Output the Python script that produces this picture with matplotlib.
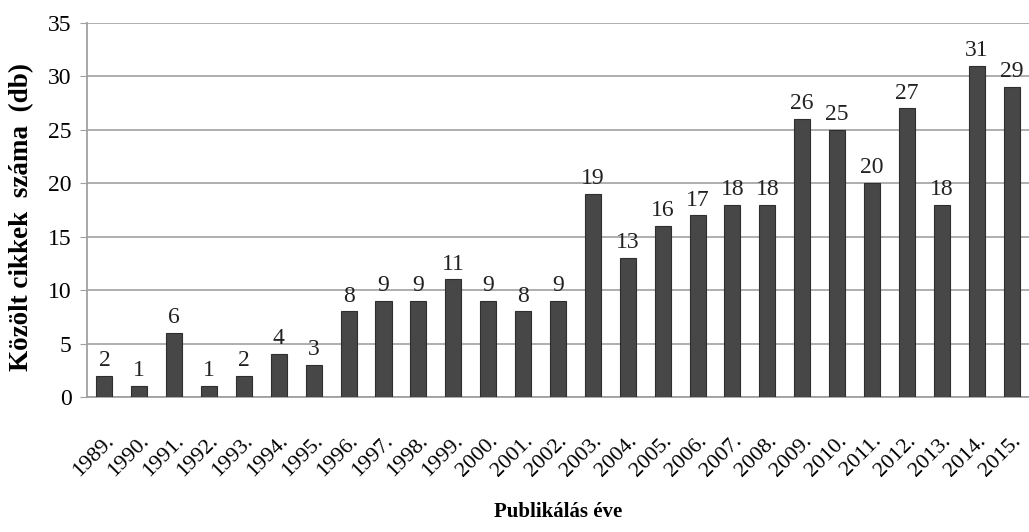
import matplotlib
matplotlib.use("Agg")
import matplotlib.pyplot as plt
import numpy as np

years = ["1989.", "1990.", "1991.", "1992.", "1993.", "1994.", "1995.", "1996.", "1997.",
         "1998.", "1999.", "2000.", "2001.", "2002.", "2003.", "2004.", "2005.", "2006.",
         "2007.", "2008.", "2009.", "2010.", "2011.", "2012.", "2013.", "2014.", "2015."]
counts = [2, 1, 6, 1, 2, 4, 3, 8, 9, 9, 11, 9, 8, 9, 19, 13, 16, 17, 18, 18, 26, 25, 20, 27, 18, 31, 29]
yticks = [0, 5, 10, 15, 20, 25, 30, 35]

plt.rcParams['font.family'] = ['Liberation Serif', 'DejaVu Serif']

fig = plt.figure(figsize=(10.29, 5.32), dpi=100)
ax = fig.add_axes([0.0845, 0.2538, 0.9155, 0.703])

x = np.arange(len(years))
ax.bar(x, counts, width=0.46, color='#474747', edgecolor='#2e2e2e', linewidth=0.8, zorder=3)
for xi, v in zip(x, counts):
    ax.text(xi, v + 0.45, str(v), ha='center', va='bottom', fontsize=17, color='#222222', zorder=4)

ax.set_xlim(-0.5, len(years) - 0.5)
ax.set_ylim(0, 35)
ax.set_yticks(yticks)
ax.set_yticklabels([str(t) for t in yticks], fontsize=17)
ax.set_xticks(x)
ax.set_xticklabels(years, rotation=45, ha='right', rotation_mode='anchor', fontsize=16)
ax.tick_params(axis='x', length=0, pad=25)
ax.tick_params(axis='y', length=5, color='#a0a0a0', pad=6)
ax.yaxis.grid(True, color='#a8a8a8', linewidth=1.3, zorder=0)
for s in ['top', 'right']:
    ax.spines[s].set_visible(False)
ax.spines['left'].set_color('#a0a0a0')
ax.spines['bottom'].set_color('#a0a0a0')
ax.spines['left'].set_linewidth(1.3)
ax.spines['bottom'].set_linewidth(1.3)

fig.text(0.021, 0.592, "Közölt cikkek  száma  (db)", rotation=90, ha='center', va='center',
         fontsize=19.5, fontweight='bold')
fig.text(0.542, 0.037, "Publikálás éve", ha='center', va='center', fontsize=15, fontweight='bold')

fig.savefig("out.png", dpi=100, facecolor='white')
